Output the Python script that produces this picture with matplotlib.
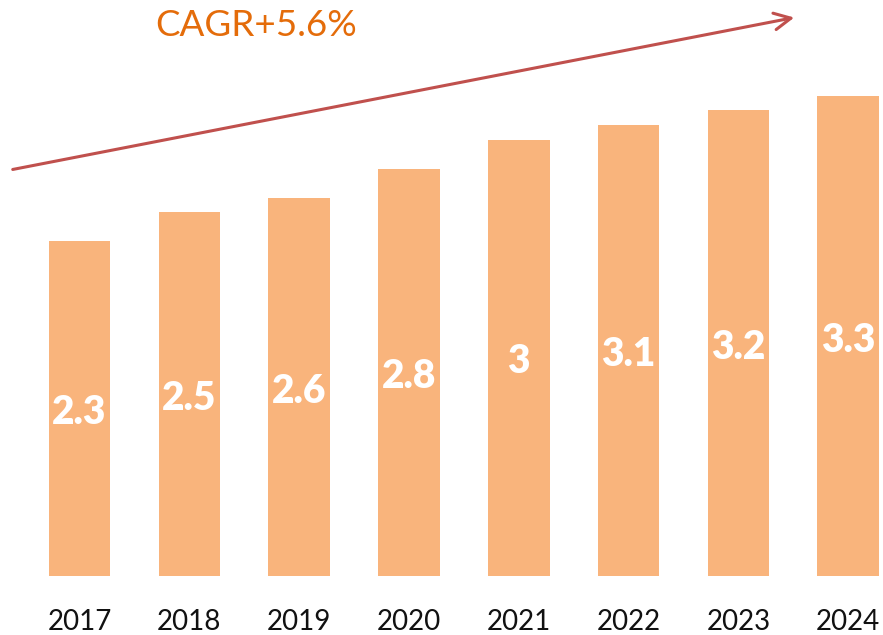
import matplotlib.pyplot as plt

plt.rcParams['font.family'] = ['Lato', 'DejaVu Sans']

# data
years = ['2017', '2018', '2019', '2020', '2021', '2022', '2023', '2024']
values = [2.3, 2.5, 2.6, 2.8, 3.0, 3.1, 3.2, 3.3]
labels = ['2.3', '2.5', '2.6', '2.8', '3', '3.1', '3.2', '3.3']

fig = plt.figure(figsize=(8.83, 6.35), dpi=100)
ax = fig.add_axes([0, 59 / 635, 1, 576 / 635])

x = range(len(years))
bars = ax.bar(x, values, width=0.56, color='#F9B47C')
ax.bar_label(bars, labels=labels, label_type='center', color='white',
             fontsize=28, fontweight='heavy', padding=-3)

ax.set_xlim(-0.724, 7.317)
ax.set_ylim(0, 3.959)
ax.set_xticks(list(x))
ax.set_xticklabels(years, fontsize=20, color='#111111')
ax.tick_params(axis='x', length=0, pad=24)
ax.set_yticks([])
for s in ax.spines.values():
    s.set_visible(False)

# CAGR arrow
fig.patches.append(plt.matplotlib.patches.FancyArrowPatch(
    (10 / 883, 1 - 170 / 635), (797 / 883, 1 - 17 / 635),
    transform=fig.transFigure, arrowstyle='->,head_length=12,head_width=6',
    color='#C0504D', lw=2.2, mutation_scale=1))
fig.text(155 / 883, 1 - 25 / 635, 'CAGR+5.6%', color='#E46C0A',
         fontsize=26.5, va='center', ha='left')

fig.savefig('out.png', dpi=100)
